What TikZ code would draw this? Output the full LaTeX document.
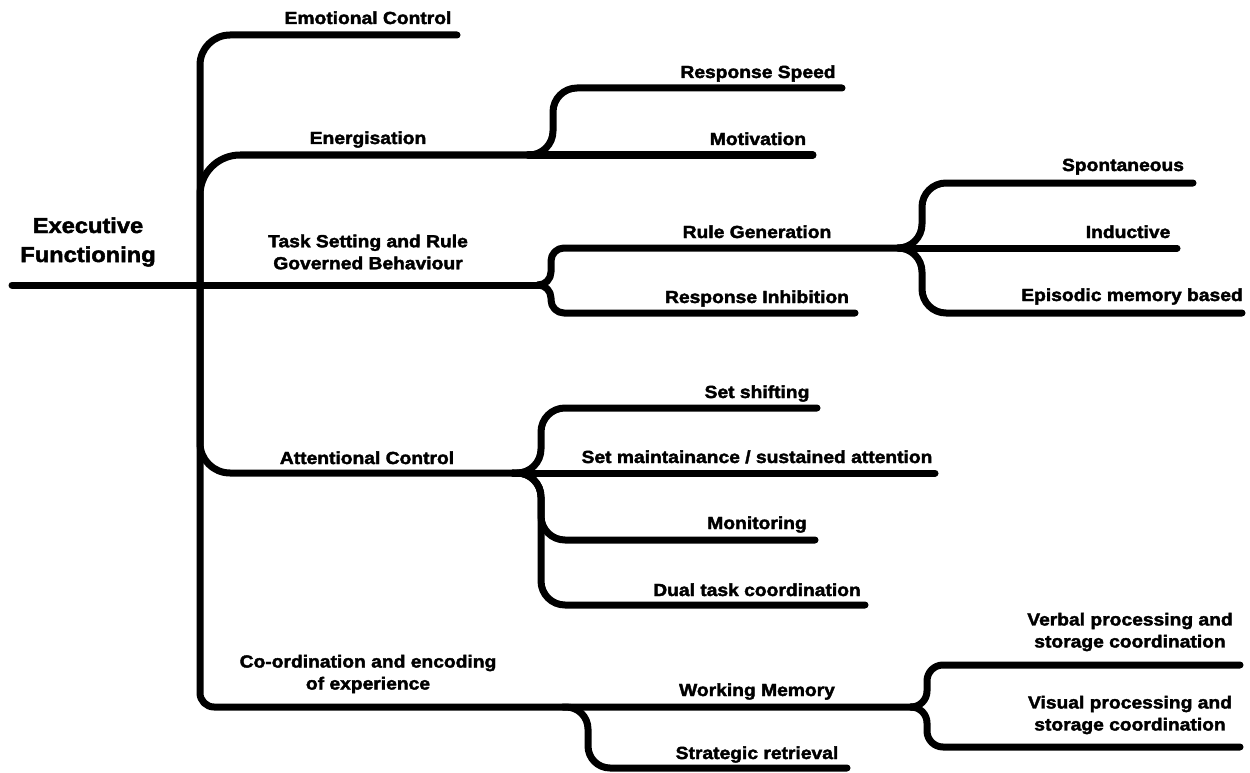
\documentclass[tikz,border=0pt]{standalone}
\usepackage{fontspec}
\setmainfont{Liberation Sans}[BoldFeatures={FakeBold=2.2,FakeStretch=1.1}]
\begin{document}
\begin{tikzpicture}[x=1pt,y=-1pt,
  br/.style={line width=7pt, line cap=round, line join=round},
  lbl/.style={font=\fontsize{17.5}{22}\selectfont\bfseries, align=center, inner sep=0pt, anchor=base},
  lbl2/.style={font=\fontsize{17.5}{22}\selectfont\bfseries, align=center, inner sep=0pt, anchor=center},
  big/.style={font=\fontsize{21.5}{29}\selectfont\bfseries, align=center, inner sep=0pt, anchor=center}]
\useasboundingbox (0,0) rectangle (1250,773);
% coordinates
\coordinate (rootW) at (12,285);
\coordinate (J) at (200,285);
\coordinate (emoE) at (457,35);
\coordinate (enS) at (528,155);
\coordinate (enV) at (553,88);
\coordinate (rsE) at (842,88);
\coordinate (motE) at (813,155);
\coordinate (tsS) at (542,285);
\coordinate (tsU) at (551,248);
\coordinate (tsD) at (551,313);
\coordinate (rgS) at (900,248);
\coordinate (riE) at (855,313);
\coordinate (rgU) at (922,183);
\coordinate (rgD) at (922,313);
\coordinate (spE) at (1193,183);
\coordinate (inE) at (1177,248);
\coordinate (epE) at (1242,313);
\coordinate (acS) at (513,473);
\coordinate (acU) at (541,408);
\coordinate (acD1) at (541,540);
\coordinate (acD2) at (541,605);
\coordinate (ssE) at (817,408);
\coordinate (smE) at (935,473);
\coordinate (moE) at (815,540);
\coordinate (dtE) at (865,605);
\coordinate (coS) at (563,707);
\coordinate (coD) at (588,768);
\coordinate (srE) at (847,768);
\coordinate (wmS) at (918,707);
\coordinate (wmU) at (927,665);
\coordinate (wmD) at (927,747);
\coordinate (veE) at (1240,665);
\coordinate (viE) at (1240,747);
% connectors
\draw[br] (rootW) -- (J) -- (tsS);
\draw[br, rounded corners=30pt] (J) |- (emoE);
\draw[br, rounded corners=40pt] (J) |- (enS);
\draw[br] (enS) -- (motE);
\draw[br, rounded corners=24pt] (enS) -| (enV) -- (rsE);
\draw[br, rounded corners=13pt] (tsS) -| (tsU) -- (rgS);
\draw[br, rounded corners=13pt] (tsS) -| (tsD) -- (riE);
\draw[br] (rgS) -- (inE);
\draw[br, rounded corners=24pt] (rgS) -| (rgU) -- (spE);
\draw[br, rounded corners=24pt] (rgS) -| (rgD) -- (epE);
\draw[br, rounded corners=30pt] (J) |- (acS);
\draw[br] (acS) -- (smE);
\draw[br, rounded corners=24pt] (acS) -| (acU) -- (ssE);
\draw[br, rounded corners=24pt] (acS) -| (acD1) -- (moE);
\draw[br, rounded corners=24pt] (acS) -| (acD2) -- (dtE);
\draw[br, rounded corners=14pt] (J) |- (wmS);
\draw[br, rounded corners=22pt] (coS) -| (coD) -- (srE);
\draw[br, rounded corners=16pt] (wmS) -| (wmU) -- (veE);
\draw[br, rounded corners=16pt] (wmS) -| (wmD) -- (viE);
% labels
\node[big] (ef) at (88,242) {Executive\\Functioning};
\node[lbl] (emo) at (368,24) {Emotional Control};
\node[lbl] (ene) at (368,144) {Energisation};
\node[lbl2] (tsr) at (368,252) {Task Setting and Rule\\Governed Behaviour};
\node[lbl] (att) at (367,464) {Attentional Control};
\node[lbl2] (coe) at (368,674) {Co-ordination and encoding\\of experience};
\node[lbl] (rsp) at (758,78) {Response Speed};
\node[lbl] (mot) at (758,145) {Motivation};
\node[lbl] (rg) at (757,238) {Rule Generation};
\node[lbl] (ri) at (757,303) {Response Inhibition};
\node[lbl] (sp) at (1123,171) {Spontaneous};
\node[lbl] (ind) at (1128,238) {Inductive};
\node[lbl] (epi) at (1132,301) {Episodic memory based};
\node[lbl] (ss) at (757,398) {Set shifting};
\node[lbl] (sm) at (757,463) {Set maintainance / sustained attention};
\node[lbl] (mo) at (757,529) {Monitoring};
\node[lbl] (dt) at (757,596) {Dual task coordination};
\node[lbl] (wm) at (757,696) {Working Memory};
\node[lbl] (sr) at (757,759) {Strategic retrieval};
\node[lbl2] (ve) at (1130,632) {Verbal processing and\\storage coordination};
\node[lbl2] (vi) at (1130,715) {Visual processing and\\storage coordination};
\end{tikzpicture}
\end{document}
